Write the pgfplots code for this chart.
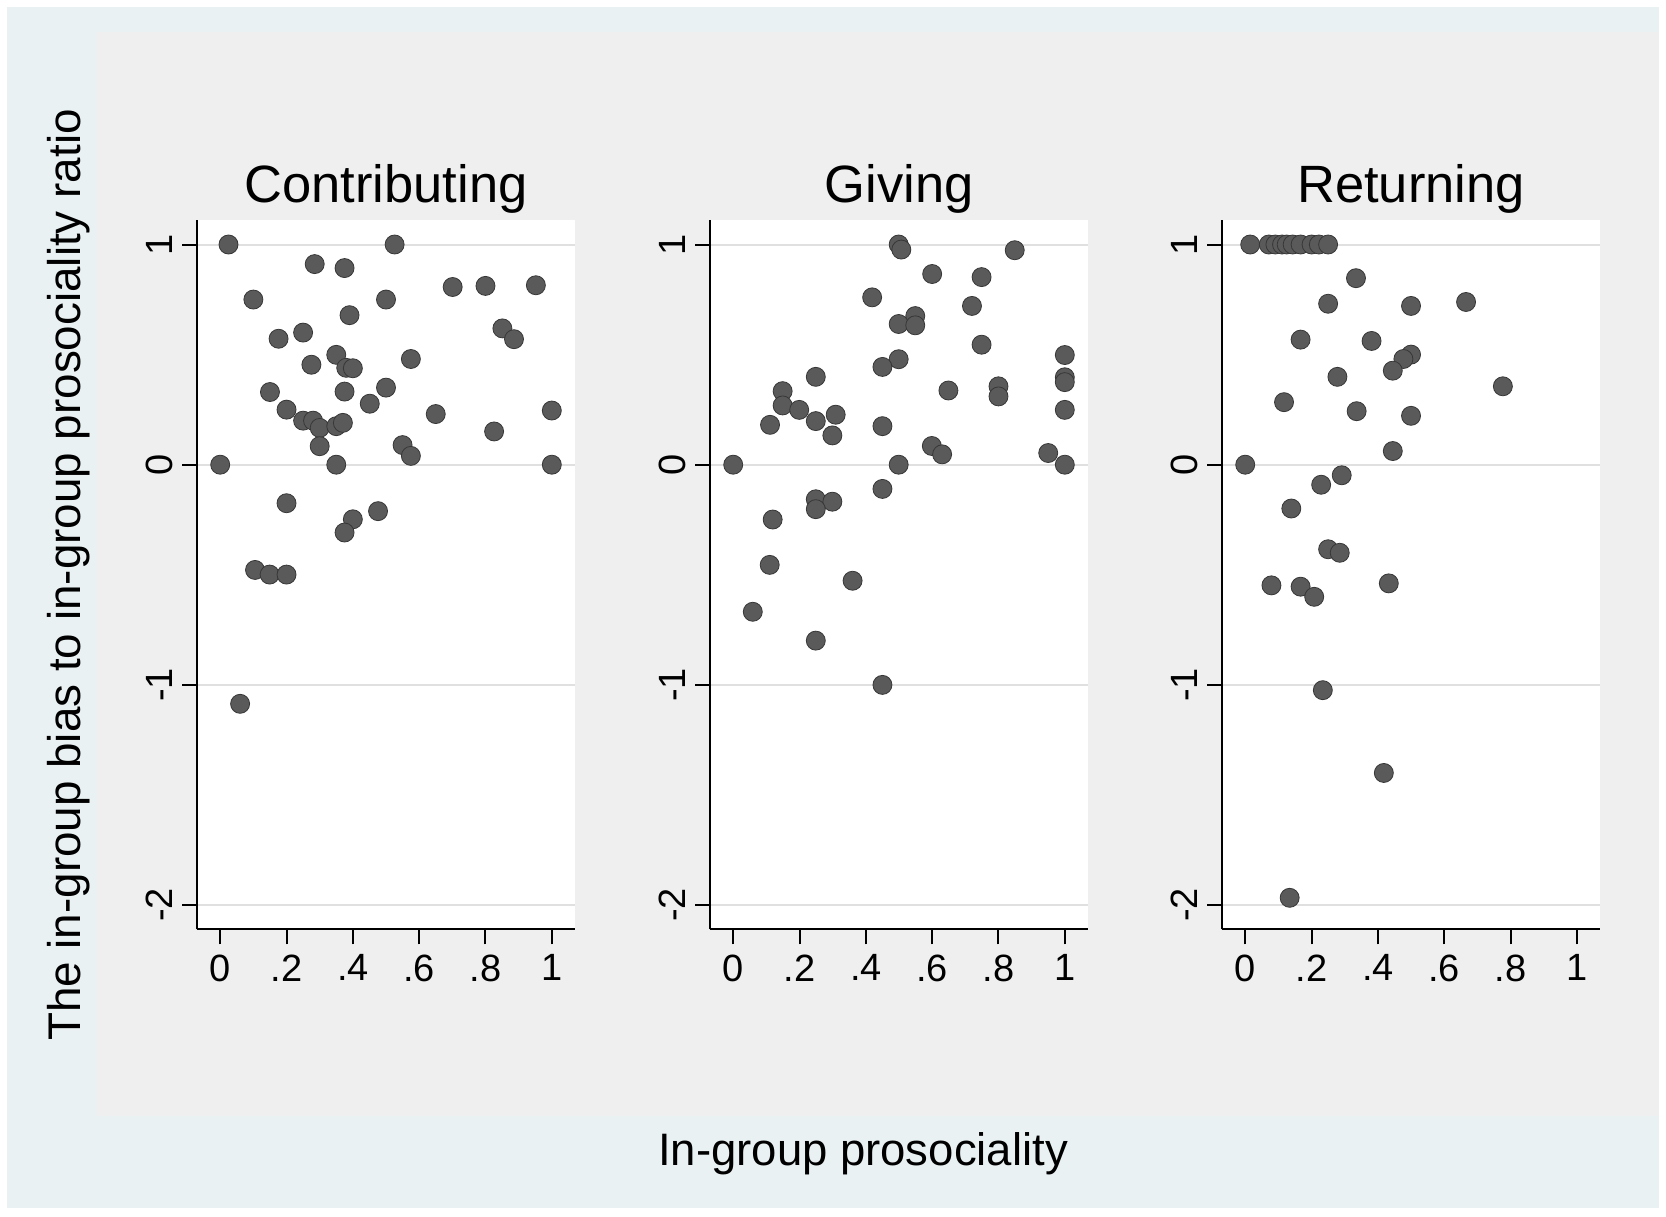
\documentclass[border=0pt]{standalone}
\usepackage{fontspec}
\setmainfont{Liberation Sans}
\usepackage{pgfplots}
\pgfplotsset{compat=1.18}
\definecolor{bluishbg}{RGB}{233,241,243}
\definecolor{innerbg}{RGB}{239,239,239}
\definecolor{gridc}{RGB}{224,224,224}
\definecolor{markfill}{RGB}{90,90,90}
\definecolor{markdraw}{RGB}{55,55,55}
\pgfplotsset{
  dots/.style={only marks, mark=*, mark size=9.5bp,
      mark options={fill=markfill, draw=markdraw, line width=0.8bp}},
  panel/.style={
    scale only axis, width=378bp, height=709bp,
    anchor=south west,
    xmin=-0.07, xmax=1.07, ymin=-2.11, ymax=1.11,
    axis lines*=left,
    axis line style={-, line width=2bp, black},
    xtick={0,0.2,0.4,0.6,0.8,1}, xticklabels={0,.2,.4,.6,.8,1},
    ytick={-2,-1,0,1}, yticklabels={-2,-1,0,1},
    tick align=outside, major tick length=15bp,
    every tick/.style={line width=2bp, black},
    ymajorgrids, major grid style={line width=2bp, gridc},
    axis background/.style={fill=white},
    ticklabel style={font=\fontsize{38bp}{42bp}\selectfont},
    xticklabel style={inner sep=0pt},
    yticklabel style={rotate=90, anchor=south, inner sep=0pt},
    xticklabel shift=10bp, yticklabel shift=9bp,
    title style={font=\fontsize{52.5bp}{58bp}\selectfont, at={(0.5,1)}, anchor=base, yshift=12bp},
  }
}
\begin{document}
\begin{tikzpicture}[x=1bp,y=1bp]
\fill[white] (0,0) rectangle (1666,1216);
\fill[bluishbg] (7,8) rectangle (1659,1209);
\fill[innerbg] (97,100) rectangle (1659,1184);

\begin{axis}[panel, at={(197bp,286.7bp)}, title={Contributing}]
\addplot[dots] coordinates {
(0.025,1.0) (0.526,1.0) (0.285,0.911) (0.375,0.893) (0.10,0.750) (0.50,0.750)
(0.701,0.807) (0.80,0.812) (0.952,0.815) (0.39,0.679) (0.176,0.572) (0.25,0.600)
(0.851,0.619) (0.886,0.570) (0.35,0.499) (0.275,0.454) (0.38,0.44) (0.40,0.438)
(0.575,0.48) (0.15,0.33) (0.375,0.332) (0.50,0.35) (0.451,0.277) (0.65,0.23)
(1.0,0.246) (0.20,0.25) (0.25,0.20) (0.28,0.20) (0.30,0.167) (0.35,0.175)
(0.37,0.19) (0.30,0.084) (0.55,0.089) (0.575,0.04) (0.826,0.151) (0,0)
(0.35,0) (1.0,0) (0.20,-0.175) (0.476,-0.211) (0.40,-0.248) (0.375,-0.308)
(0.105,-0.478) (0.149,-0.499) (0.20,-0.499) (0.06,-1.086)
};
\end{axis}

\begin{axis}[panel, at={(710bp,286.7bp)}, title={Giving}]
\addplot[dots] coordinates {
(0.499,1.0) (0.507,0.977) (0.849,0.974) (0.60,0.866) (0.749,0.852) (0.419,0.760)
(0.72,0.721) (0.549,0.675) (0.499,0.639) (0.549,0.633) (0.749,0.545) (1.0,0.498)
(0.499,0.479) (0.45,0.444) (0.249,0.399) (1.0,0.397) (1.0,0.375) (0.149,0.334)
(0.649,0.337) (0.80,0.356) (0.80,0.31) (0.149,0.269) (0.199,0.249) (1.0,0.249)
(0.309,0.227) (0.249,0.198) (0.111,0.181) (0.45,0.175) (0.299,0.133) (0.599,0.085)
(0.63,0.047) (0.95,0.053) (0,0) (0.499,0) (1.0,0) (0.45,-0.110)
(0.249,-0.157) (0.299,-0.168) (0.249,-0.202) (0.119,-0.249) (0.11,-0.455) (0.36,-0.527)
(0.059,-0.668) (0.249,-0.799) (0.45,-1.0)
};
\end{axis}

\begin{axis}[panel, at={(1222bp,286.7bp)}, title={Returning}]
\addplot[dots] coordinates {
(0.015,1) (0.071,1) (0.091,1) (0.111,1) (0.125,1) (0.143,1) (0.167,1) (0.2,1) (0.222,1) (0.25,1)
(0.334,0.847) (0.25,0.731) (0.50,0.721) (0.666,0.739) (0.167,0.568) (0.381,0.562)
(0.50,0.50) (0.477,0.48) (0.445,0.427) (0.278,0.399) (0.777,0.356) (0.117,0.284)
(0.336,0.243) (0.50,0.222) (0.445,0.062) (0,0) (0.291,-0.048) (0.229,-0.091)
(0.139,-0.199) (0.25,-0.384) (0.285,-0.40) (0.079,-0.548) (0.167,-0.554) (0.208,-0.60)
(0.433,-0.539) (0.234,-1.024) (0.418,-1.40) (0.134,-1.967)
};
\end{axis}

\node[font=\fontsize{45.5bp}{50bp}\selectfont, anchor=base] at (863bp,51bp) {In-group prosociality};
\node[font=\fontsize{45.8bp}{52bp}\selectfont, rotate=90, anchor=base] at (80bp,641bp) {The in-group bias to in-group prosociality ratio};
\end{tikzpicture}
\end{document}
